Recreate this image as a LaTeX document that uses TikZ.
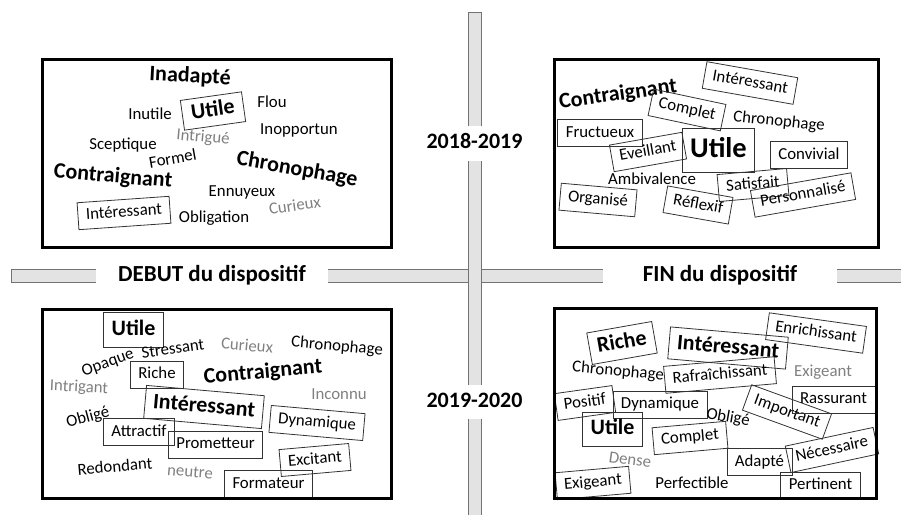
\documentclass[tikz,border=0pt]{standalone}
\usepackage{fontspec}
\setmainfont{Carlito}
\begin{document}
\begin{tikzpicture}[x=1pt,y=-1pt,
  wd/.style={font=\fontsize{16.8}{18}\selectfont, text=black, inner sep=0pt, text height=11.5pt, text depth=3.5pt},
  bd/.style={font=\fontsize{22}{24}\selectfont\bfseries, text=black, inner sep=0pt, text height=15.5pt, text depth=4.5pt},
  gr/.style={wd, text=black!50},
  bx/.style={draw=black!80, line width=0.8pt, inner xsep=8pt, minimum height=27pt},
  frame/.style={draw=black, line width=3pt},
  bar/.style={fill=black!11, draw=black!55, line width=0.9pt},
  lab/.style={fill=white, font=\fontsize{22}{24}\selectfont\bfseries, text=black, inner xsep=2pt, inner ysep=0pt, text height=15.5pt, text depth=4.5pt}
]
\useasboundingbox (0,0) rectangle (901,514);

% bars
\draw[bar] (11,269) rectangle (910,282);
\draw[bar] (468,12) rectangle (481,520);
\node[lab, font=\fontsize{23}{25}\selectfont\bfseries, minimum width=232pt] (debut) at (212,276) {DEBUT du dispositif};
\node[lab, font=\fontsize{23}{25}\selectfont\bfseries, minimum width=234pt] (fin) at (720,276) {FIN du dispositif};
\node[lab, minimum height=35pt] (y1) at (474.5,143) {2018-2019};
\node[lab, minimum height=34pt] (y2) at (474.5,402) {2019-2020};

% top-left
\node[bd, rotate=-3] (tlInadapte) at (190,77) {Inadapté};
\node[bd, bx, rotate=8, minimum height=30pt, inner xsep=9pt] (tlUtile) at (213,111) {Utile};
\node[wd] (tlFlou) at (272,103) {Flou};
\node[wd] (tlInutile) at (150,115) {Inutile};
\node[wd] (tlInopportun) at (299,130) {Inopportun};
\node[gr, rotate=-5] (tlIntrigue) at (203,138) {Intrigué};
\node[wd] (tlSceptique) at (123,145) {Sceptique};
\node[wd, rotate=10] (tlFormel) at (173,160) {Formel};
\node[bd, rotate=-10] (tlChrono) at (297,170) {Chronophage};
\node[bd, rotate=-5] (tlContr) at (113,177) {Contraignant};
\node[wd] (tlEnnuyeux) at (242,192) {Ennuyeux};
\node[gr, rotate=8] (tlCurieux) at (295,207) {Curieux};
\node[wd, bx, rotate=4] (tlInteressant) at (124,213) {Intéressant};
\node[wd] (tlObligation) at (214,218) {Obligation};

% top-right
\node[wd, bx, rotate=-10] (trInteressant) at (750,83) {Intéressant};
\node[bd, rotate=8] (trContr) at (618,95) {Contraignant};
\node[wd, bx, rotate=-12] (trComplet) at (687,110) {Complet};
\node[wd, rotate=-6] (trChrono) at (779,122) {Chronophage};
\node[wd, bx] (trFructueux) at (600,133) {Fructueux};
\node[font=\fontsize{28.5}{30}\selectfont\bfseries, bx, inner sep=0pt, inner xsep=8pt, minimum height=44pt, text height=20pt, text depth=6pt] (trUtile) at (718.5,150) {Utile};
\node[wd, bx, rotate=10] (trEveillant) at (648,152) {Eveillant};
\node[wd, bx] (trConvivial) at (809,155) {Convivial};
\node[wd] (trAmbivalence) at (652,180) {Ambivalence};
\node[wd, bx, rotate=5] (trSatisfait) at (753,185) {Satisfait};
\node[wd, bx, rotate=-5] (trOrganise) at (598,200) {Organisé};
\node[wd, bx, rotate=-10] (trReflexif) at (698,205) {Réflexif};
\node[wd, bx, rotate=10] (trPerso) at (803,195) {Personnalisé};

% bottom-left
\node[bd, bx, minimum height=35pt] (blUtile) at (133.5,329.5) {Utile};
\node[wd, rotate=8] (blStressant) at (173,350) {Stressant};
\node[gr, rotate=-5] (blCurieux) at (247,347) {Curieux};
\node[wd, rotate=-5] (blChrono) at (337,347) {Chronophage};
\node[wd, rotate=20] (blOpaque) at (108,363) {Opaque};
\node[wd, bx] (blRiche) at (157,374.5) {Riche};
\node[bd, rotate=5] (blContr) at (263,373) {Contraignant};
\node[gr, rotate=-3] (blIntrigant) at (79,388) {Intrigant};
\node[gr] (blInconnu) at (339,395) {Inconnu};
\node[bd, bx, rotate=-5, minimum height=33pt] (blInteressant) at (204,407) {Intéressant};
\node[wd, rotate=15] (blOblige) at (88,418) {Obligé};
\node[wd, bx, rotate=-5] (blDynamique) at (317,423) {Dynamique};
\node[wd, bx] (blAttractif) at (139,432) {Attractif};
\node[wd, bx] (blPrometteur) at (215.5,444.5) {Prometteur};
\node[wd, bx, rotate=5] (blExcitant) at (315,460) {Excitant};
\node[wd, rotate=5] (blRedondant) at (115,468) {Redondant};
\node[gr, rotate=-5] (blNeutre) at (190,473) {neutre};
\node[wd, bx] (blFormateur) at (268.5,484) {Formateur};

% bottom-right
\node[bd, bx, rotate=10, minimum height=32pt] (brRiche) at (622,343) {Riche};
\node[bd, bx, rotate=-5, minimum height=32pt] (brInteressant) at (728,348) {Intéressant};
\node[wd, bx, rotate=-8] (brEnrichissant) at (816,333) {Enrichissant};
\node[wd, rotate=-5] (brChrono) at (618,372) {Chronophage};
\node[wd, bx, rotate=5] (brRafraich) at (720,375) {Rafraîchissant};
\node[gr] (brExigeantG) at (823,372) {Exigeant};
\node[wd, bx, rotate=8] (brPositif) at (585,403) {Positif};
\node[wd, bx] (brDynamique) at (660,404.5) {Dynamique};
\node[wd, rotate=-10] (brOblige) at (728,418) {Obligé};
\node[wd, bx, rotate=-20] (brImportant) at (787,412) {Important};
\node[wd, bx] (brRassurant) at (833.5,399.5) {Rassurant};
\node[bd, bx, minimum height=34pt] (brUtile) at (612.5,429) {Utile};
\node[wd, bx, rotate=5] (brComplet) at (690,438) {Complet};
\node[wd, bx, rotate=12] (brNecessaire) at (832,450) {Nécessaire};
\node[gr, rotate=-8] (brDense) at (630,461) {Dense};
\node[wd, bx] (brAdapte) at (759.5,462) {Adapté};
\node[wd, bx, rotate=5] (brExigeant) at (593,483) {Exigeant};
\node[wd] (brPerfectible) at (692,484) {Perfectible};
\node[wd, bx] (brPertinent) at (820.5,485.5) {Pertinent};

% frames
\draw[frame] (42.5,59) rectangle (391,247.5);
\draw[frame] (554,59) rectangle (878,247.5);
\draw[frame] (42.5,309) rectangle (391,498);
\draw[frame] (554,308.5) rectangle (876.5,498);
\end{tikzpicture}
\end{document}
